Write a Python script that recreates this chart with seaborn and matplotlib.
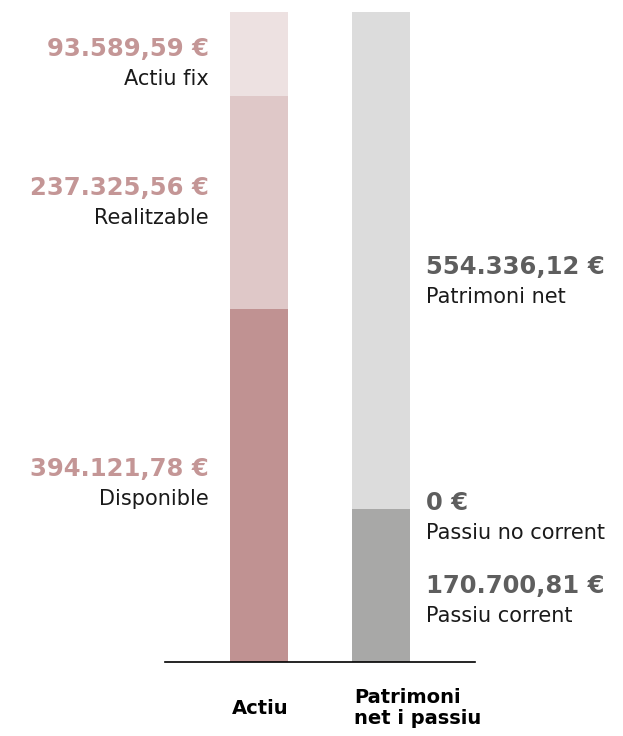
import matplotlib
matplotlib.use("Agg")
import matplotlib.pyplot as plt
import numpy as np
import pandas as pd
import seaborn as sns

categories = ["Actiu", "Patrimoni\nnet i passiu"]

# layers stacked from the bottom up: [Actiu segment, Patrimoni/passiu segment]
layer_names = [["Disponible", "Passiu corrent"],
               ["Realitzable", "Passiu no corrent"],
               ["Actiu fix", "Patrimoni net"]]
layer_values = [[394121.78, 170700.81],
                [237325.56, 0.0],
                [93589.59, 554336.12]]
layer_colors = [["#c09292", "#a8a8a7"],
                ["#dfc8c8", "#dcdcdc"],
                ["#ede1e1", "#dcdcdc"]]
value_colors = ["#c49696", "#5e5e5e"]

# baseline offset (px, down) of the value text from the segment middle
value_shift = [[-9.5, 7.5], [-7.5, 1], [2, 13.5]]


def fmt(v):
    if v == 0:
        return "0 €"
    s = f"{v:,.2f}".replace(",", "X").replace(".", ",").replace("X", ".")
    return s + " €"


sns.set_style("white")
plt.rcParams["font.family"] = ["DejaVu Sans"]

fig = plt.figure(figsize=(6.23, 7.36), dpi=100)
ax = fig.add_axes([165 / 623, 74 / 736, 310 / 623, 650 / 736])

bar_w = 58 / 122
px2pt = 0.72
bottoms = np.zeros(2)
for li in range(len(layer_values)):
    df = pd.DataFrame({"cat": categories, "val": layer_values[li]})
    n_before = len(ax.patches)
    sns.barplot(data=df, x="cat", y="val", order=categories, bottom=bottoms,
                width=bar_w, errorbar=None, color="#cccccc", saturation=1,
                linewidth=0, ax=ax)
    for j, p in enumerate(ax.patches[n_before:]):
        p.set_facecolor(layer_colors[li][j])
        p.set_edgecolor("none")

    for j in range(2):
        mid = bottoms[j] + layer_values[li][j] / 2
        if j == 0:
            xedge, dx, ha = j - bar_w / 2, -21 * px2pt, "right"
        else:
            xedge, dx, ha = j + bar_w / 2, 16 * px2pt, "left"
        dy = value_shift[li][j]
        ax.annotate(fmt(layer_values[li][j]), xy=(xedge, mid), xytext=(dx, -dy * px2pt),
                    textcoords="offset points", ha=ha, va="baseline",
                    fontsize=17.5, fontweight="bold", color=value_colors[j])
        ax.annotate(layer_names[li][j], xy=(xedge, mid), xytext=(dx, -(dy + 29) * px2pt),
                    textcoords="offset points", ha=ha, va="baseline",
                    fontsize=15, color="#1a1a1a")
    bottoms = bottoms + np.array(layer_values[li])

ax.set_xlim(-0.77, 1.77)
ax.set_ylim(0, bottoms.max())
ax.set_xlabel("")
ax.set_ylabel("")
ax.set_yticks([])
# category labels start at the left edge of each bar
ax.set_xticks(np.arange(len(categories)) - bar_w / 2 + 0.015)
ax.set_xticklabels(categories, fontsize=14, fontweight="bold", color="black",
                   linespacing=1.1)
ax.tick_params(axis="x", length=0, pad=46 * px2pt)
for lab in ax.get_xticklabels():
    lab.set_verticalalignment("center")
    lab.set_horizontalalignment("left")
    lab.set_multialignment("left")

for s in ["top", "right", "left"]:
    ax.spines[s].set_visible(False)
ax.spines["bottom"].set_color("black")
ax.spines["bottom"].set_linewidth(1.2)

fig.savefig("out.png", dpi=100)
